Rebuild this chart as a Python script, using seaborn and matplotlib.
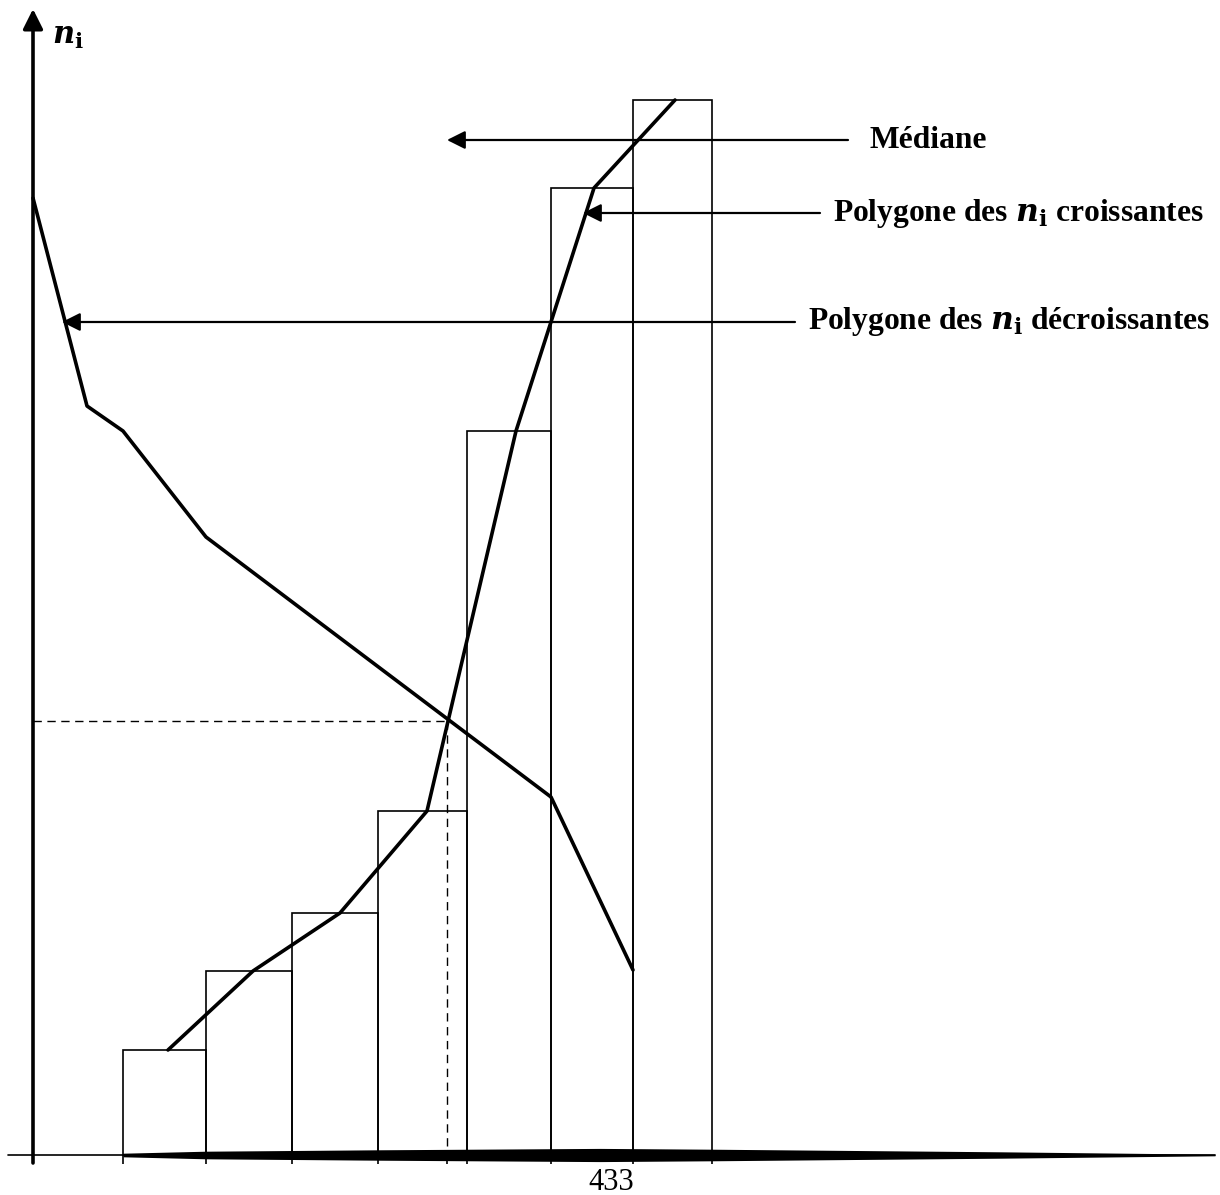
import numpy as np
import pandas as pd
import matplotlib
matplotlib.use("Agg")
import matplotlib.pyplot as plt
from matplotlib.patches import ArrowStyle
import seaborn as sns

# Class boundaries and frequencies (histogram)
class_edges = [9.0, 17.3, 25.9, 34.5, 43.4, 51.8, 60.0, 67.9]
class_counts = [10.5, 18.4, 24.2, 34.4, 72.4, 96.7, 105.5]

# Polygon of increasing frequencies
inc_x = [13.5, 22.0, 30.7, 39.4, 48.3, 56.1, 64.2]
inc_y = class_counts

# Polygon of decreasing frequencies
dec_x = [0.0, 5.4, 9.0, 17.3, 51.8, 60.0]
dec_y = [95.7, 74.9, 72.4, 61.8, 35.8, 18.5]

# Intersection of both polygons (median)
median_x = 41.4
median_y = 43.4

# Annotation labels
label_median = "Médiane"
label_inc = r"Polygone des $\mathbfit{n}_{\mathbf{i}}$ croissantes"
label_dec = r"Polygone des $\mathbfit{n}_{\mathbf{i}}$ décroissantes"
y_label = r"$\mathbfit{n}_{\mathbf{i}}$"
page_label = "433"

sns.set_theme(style="white")
plt.rcParams["font.family"] = ["Liberation Serif", "DejaVu Serif"]
plt.rcParams["mathtext.fontset"] = "dejavuserif"
plt.rcParams["text.color"] = "black"

fig = plt.figure(figsize=(12.2, 11.95), dpi=100)
ax = fig.add_axes([0, 0, 1, 1])

# Histogram bars from the class boundaries
mids = [(a + b) / 2 for a, b in zip(class_edges[:-1], class_edges[1:])]
sns.histplot(x=mids, weights=class_counts, bins=class_edges, fill=False,
             color="black", linewidth=1.2, ax=ax)

# Frequency polygons
sns.lineplot(x=inc_x, y=inc_y, sort=False, color="black", linewidth=2.6, ax=ax)
sns.lineplot(x=dec_x, y=dec_y, sort=False, color="black", linewidth=2.6, ax=ax)

# Dashed guides to the median
ax.plot([0, median_x], [median_y, median_y], color="black", lw=1.0,
        linestyle=(0, (6, 4)))
ax.plot([median_x, median_x], [median_y, -0.8], color="black", lw=1.0,
        linestyle=(0, (6, 4)))

# Horizontal axis, with a thick tapering band along it
ax.plot([-2.5, 118.2], [0, 0], color="black", lw=1.2)
band_x = np.array([9.0, 17.3, 34.5, 56.7, 67.9, 96.7, 118.2])
band_h = np.array([0.18, 0.38, 0.52, 0.66, 0.58, 0.32, 0.08])
xs = np.linspace(band_x[0], band_x[-1], 400)
hs = np.interp(xs, band_x, band_h)
ax.fill_between(xs, -hs, hs, color="black", linewidth=0)

# Tick marks below the axis
tick_x = [9.0, 17.3, 25.9, 34.5, median_x, 43.4, 51.8, 60.0, 67.9]
ax.vlines(tick_x, -0.85, 0, color="black", lw=1.2)

# Vertical axis with arrow head
ax.annotate("", xy=(0, 114.6), xytext=(0, -0.8),
            arrowprops=dict(arrowstyle=ArrowStyle("-|>", head_length=1.2, head_width=0.6),
                            color="black", lw=2.6, shrinkA=0, shrinkB=0,
                            mutation_scale=10))
ax.text(3.5, 111.9, y_label, fontsize=22, ha="center", va="center", color="black")

# Annotation arrows and labels
arrow_style = ArrowStyle("-|>", head_length=1.1, head_width=0.55)
annots = [
    (label_median, 41.4, 81.5, 101.5, 83.6),
    (label_inc, 55.0, 78.7, 94.2, 80.0),
    (label_dec, 2.9, 76.2, 83.3, 77.5),
]
for text, tip, start, yy, tx in annots:
    ax.annotate("", xy=(tip, yy), xytext=(start, yy),
                arrowprops=dict(arrowstyle=arrow_style, color="black", lw=1.6,
                                shrinkA=0, shrinkB=0, mutation_scale=10))
    ax.text(tx, yy, text, fontsize=22.7, fontweight="bold", ha="left",
            va="center", color="black")

ax.text(57.8, -2.7, page_label, fontsize=22, ha="center", va="center", color="black")

ax.set_xlim(-3.3, 118.7)
ax.set_ylim(-4.0, 115.5)
ax.set_axis_off()

fig.savefig("out.png", dpi=100, facecolor="white")
